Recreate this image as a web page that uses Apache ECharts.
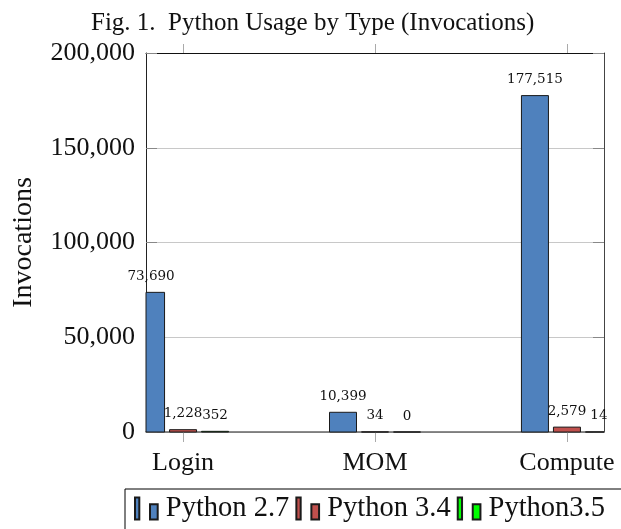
<!DOCTYPE html>
<html>
<head>
<meta charset="utf-8">
<script src="https://cdn.jsdelivr.net/npm/echarts@6/dist/echarts.min.js"></script>
<style>
  html, body { margin: 0; padding: 0; background: #fff; }
  #chart { width: 621px; height: 529px; }
</style>
</head>
<body>
<div id="chart"></div>
<script>
// categories and values
const categories = ["Login", "MOM", "Compute"];
const seriesNames = ["Python 2.7", "Python 3.4", "Python3.5"];
const py27 = [73690, 10399, 177515];
const py34 = [1228, 34, 2579];
const py35 = [352, 0, 14];
const yTicks = [0, 50000, 100000, 150000, 200000];

const serif = "Liberation Serif";
const colors = ["#4f81bd", "#c0504d", "#00ff00"];
const legendIcon = "path://M0,0H4.3V22H0Z M15,6.7H22.7V22H15Z";
const barWidth = 27;
const barStep = 32;

const catIdx = categories.map((c, i) => i);
const fmt = v => Number(v).toLocaleString("en-US");

// bars are clipped to the plot frame (the Login bar runs off the left edge)
function makeBar(name, values, color, slot) {
  return {
    name: name,
    type: "custom",
    xAxisIndex: 0,
    yAxisIndex: 0,
    itemStyle: { color: color, borderColor: "#1a1a1a", borderWidth: 1 },
    renderItem: function (params, api) {
      const v = api.value(1);
      const top = api.coord([api.value(0), v]);
      const base = api.coord([api.value(0), 0]);
      const cx = top[0] + slot * barStep;
      const cs = params.coordSys;
      const rect = echarts.graphic.clipRectByRect(
        { x: cx - barWidth / 2, y: top[1], width: barWidth, height: base[1] - top[1] },
        { x: cs.x, y: cs.y, width: cs.width, height: cs.height }
      );
      const children = [];
      if (rect) {
        children.push({
          type: "rect",
          shape: rect,
          style: { fill: color, stroke: "#1a1a1a", lineWidth: 1 }
        });
      }
      children.push({
        type: "text",
        x: cx,
        y: top[1] - 9,
        style: {
          text: fmt(v),
          align: "center",
          verticalAlign: "bottom",
          fontFamily: "DejaVu Serif",
          fontSize: 13.5,
          fill: "#111"
        }
      });
      return { type: "group", children: children };
    },
    data: values.map((v, i) => [catIdx[i], v])
  };
}

const chart = echarts.init(document.getElementById("chart"));
chart.setOption({
  animation: false,
  title: {
    text: "Fig. 1.  Python Usage by Type (Invocations)",
    left: 86,
    top: 6,
    textStyle: { fontFamily: serif, fontWeight: "normal", fontSize: 25, color: "#111" }
  },
  grid: { left: 146, right: 17, top: 53, bottom: 97 },
  legend: {
    left: 125,
    top: 489,
    width: 520,
    padding: [5, 26, 16, 9],
    itemGap: 6,
    itemWidth: 23,
    itemHeight: 22,
    borderColor: "#000",
    borderWidth: 1,
    icon: legendIcon,
    textStyle: { fontFamily: serif, fontSize: 28.5, color: "#111", padding: [0, 0, 0, 3] },
    data: seriesNames
  },
  xAxis: [
    {
      type: "value",
      position: "bottom",
      min: -0.193,
      max: 2.193,
      axisLine: { show: true, onZero: false, lineStyle: { color: "#666", width: 1.5 } },
      axisTick: { show: true, customValues: catIdx, length: 10, lineStyle: { color: "#aaa" } },
      axisLabel: {
        customValues: catIdx,
        formatter: v => categories[Math.round(v)],
        fontFamily: serif,
        fontSize: 26,
        color: "#111",
        margin: 18
      },
      splitLine: { show: false }
    },
    {
      type: "value",
      position: "top",
      min: -0.193,
      max: 2.193,
      axisLine: { show: true, onZero: false, lineStyle: { color: "#111", width: 1 } },
      axisTick: { show: true, customValues: catIdx, length: 9, lineStyle: { color: "#aaa" } },
      axisLabel: { show: false },
      splitLine: { show: false }
    }
  ],
  yAxis: [
    {
      type: "value",
      position: "left",
      min: yTicks[0],
      max: yTicks[yTicks.length - 1],
      interval: yTicks[1] - yTicks[0],
      name: "Invocations",
      nameLocation: "middle",
      nameRotate: 90,
      nameGap: 108,
      nameTextStyle: { fontFamily: serif, fontSize: 28, color: "#111" },
      axisLine: { show: true, onZero: false, lineStyle: { color: "#222", width: 1 } },
      axisTick: { show: true, inside: true, length: 11, lineStyle: { color: "#888" } },
      axisLabel: { formatter: fmt, fontFamily: serif, fontSize: 26, color: "#111", margin: 11 },
      splitLine: { show: true, lineStyle: { color: "#c8c8c8", width: 1 } }
    },
    {
      type: "value",
      position: "right",
      min: yTicks[0],
      max: yTicks[yTicks.length - 1],
      interval: yTicks[1] - yTicks[0],
      axisLine: { show: true, onZero: false, lineStyle: { color: "#444", width: 1 } },
      axisTick: { show: true, inside: true, length: 11, lineStyle: { color: "#888" } },
      axisLabel: { show: false },
      splitLine: { show: false }
    }
  ],
  series: [
    makeBar(seriesNames[0], py27, colors[0], -1),
    makeBar(seriesNames[1], py34, colors[1], 0),
    makeBar(seriesNames[2], py35, colors[2], 1)
  ]
});
</script>
</body>
</html>
